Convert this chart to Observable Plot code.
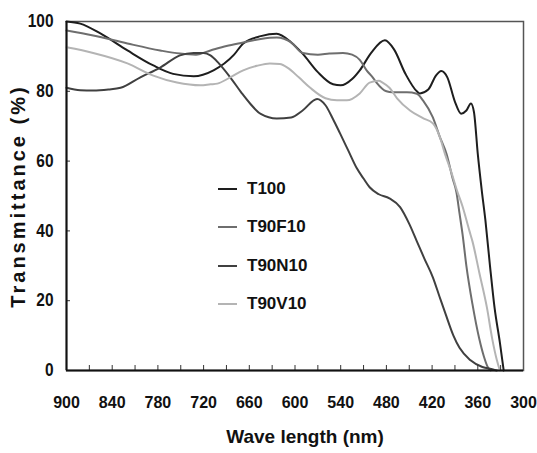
<!DOCTYPE html>
<html>
<head>
<meta charset="utf-8">
<script src="https://cdn.jsdelivr.net/npm/d3@7"></script>
<script src="https://cdn.jsdelivr.net/npm/@observablehq/plot@0.6"></script>
<style>
  html, body { margin: 0; padding: 0; background: #fff; }
  #wrap { position: relative; width: 537px; height: 453px; font-family: "Liberation Sans", Arial, sans-serif; }
  #legend { position: absolute; left: 218px; top: 170px; font-weight: bold; font-size: 17px; color: #111; }
  #legend .item { display: flex; align-items: center; height: 38.3px; }
  #legend .sw { width: 19px; height: 0; border-top: 2.5px solid; margin-right: 10px; }
</style>
</head>
<body>
<div id="wrap"></div>
<script>
const seriesNames = ["T100", "T90F10", "T90N10", "T90V10"];
const seriesColors = ["#1e1e1e", "#6e6e6e", "#404040", "#b4b4b4"];

const T100_wl = [900,882,855,820,786,760,733,707,680,668,645,624,605,590,570,550,540,525,515,500,482,470,455,440,436,425,415,408,400,390,382,375,369,365,360,355,350,344,338,331,326];
const T100_t  = [100,99.4,96.5,91.7,87.4,85,84.3,86,90.5,93.7,95.8,96.5,94,90.8,85.5,82,81.7,83.5,86,91,94.6,92,85,80,79.4,80.5,84.5,85.8,84,77,73.6,74.5,76.5,74,62,52,43,30,18,8,0];

const T90F10_wl = [900,865,820,777,751,730,711,690,668,645,624,605,590,570,555,537,525,515,506,498,493,480,472,453,440,432,419,410,401,393,388,384,380,375,367,358,352,347,343];
const T90F10_t  = [97.4,96,93.7,91.7,90.8,90.5,91.7,93,94,95,95.4,94,91,90.5,90.8,91,90.5,89,86,84,82.5,80,79.7,79.7,79.3,77.4,72.5,67,62,55,51,45,39,30,19,9,4,1,0];

const T90N10_wl = [900,882,865,845,829,803,777,751,733,720,711,700,685,670,659,645,624,605,590,571,560,550,541,530,519,510,502,490,476,462,450,440,430,419,410,402,392,384,370,354,340,335];
const T90N10_t  = [81,80.3,80.2,80.5,81,84,86.8,90.3,91,91,90.3,88,84,79.5,76.5,73.5,72.2,72.5,74.5,77.8,76,72,68,63,58,55,52.5,50.5,49.3,46.8,42,37,32,26.7,21,16,10,6.5,3,1,0.3,0];

const T90V10_wl = [900,865,820,786,755,724,711,702,685,668,650,633,620,610,595,580,560,545,532,515,502,490,485,476,466,449,432,419,410,403,395,388,380,371,367,358,348,341,335,331];
const T90V10_t  = [92.6,91,88,84.5,82.5,81.7,82,82.2,84,86,87.3,88,87.8,86.8,84,81,78,77.4,77.4,79.4,82.5,83,82.5,81,78,74.5,72.3,70.8,67,62,57,52,47,40,37,28,18,9,3,0];

const xLabelTicks = [900,840,780,720,660,600,540,480,420,360,300];
const xMinorTicks = [870,840,810,780,750,720,690,660,630,600,570,540,510,480,450,420,390,360,330];
const yTicks = [0,20,40,60,80,100];
const yInnerTicks = [20,40,60,80];

const wlArrays = [T100_wl, T90F10_wl, T90N10_wl, T90V10_wl];
const tArrays = [T100_t, T90F10_t, T90N10_t, T90V10_t];
const rows = seriesNames.flatMap((s, i) => wlArrays[i].map((w, j) => ({series: s, wl: w, t: tArrays[i][j]})));

const plot = Plot.plot({
  width: 537,
  height: 453,
  marginLeft: 66,
  marginRight: 14,
  marginTop: 21,
  marginBottom: 83,
  style: {fontFamily: "'Liberation Sans', Arial, sans-serif", fontSize: "16px", fontWeight: "bold", color: "#111", background: "#fff"},
  x: {domain: [900, 300], label: null},
  y: {domain: [0, 100], label: null},
  color: {domain: seriesNames, range: seriesColors},
  marks: [
    Plot.frame({stroke: "#555", strokeWidth: 1.5}),
    Plot.line(rows, {x: "wl", y: "t", z: "series", stroke: "series", strokeWidth: 2, curve: "monotone-x"}),
    Plot.axisX({ticks: xLabelTicks, tickSize: 0, tickPadding: 26, fontSize: 16, fontWeight: "bold"}),
    Plot.axisX({ticks: xMinorTicks, tickSize: 5, dy: -5, text: null, stroke: "#333"}),
    Plot.axisY({ticks: yTicks, tickSize: 0, tickPadding: 13, fontSize: 18, fontWeight: "bold"}),
    Plot.axisY({ticks: yInnerTicks, tickSize: 4, dx: 4, text: null, stroke: "#333"}),
    Plot.ruleY([0], {stroke: "#111", strokeWidth: 2}),
    Plot.ruleX([900], {stroke: "#111", strokeWidth: 2}),
    Plot.text(["Wave length (nm)"], {frameAnchor: "bottom", dy: 72, dx: 10, fontSize: 19, fontWeight: "bold", fill: "#111"}),
    Plot.text(["Transmittance (%)"], {frameAnchor: "left", textAnchor: "middle", dx: -48, rotate: -90, fontSize: 20, fontWeight: "bold", fill: "#111"})
  ]
});

const svgSel = d3.select(plot);
svgSel.selectAll("text")
  .filter(function() { return this.textContent === "Transmittance (%)"; })
  .attr("letter-spacing", "3px");
// narrow, tall digits on the y axis as in the reference
svgSel.selectAll("g[aria-label='y-axis tick label'] text")
  .attr("textLength", function() { return this.textContent.trim().length * 8.6; })
  .attr("lengthAdjust", "spacingAndGlyphs");

const wrap = document.getElementById("wrap");
wrap.appendChild(plot);
const legend = document.createElement("div");
legend.id = "legend";
seriesNames.forEach((s, i) => {
  const item = document.createElement("div");
  item.className = "item";
  const sw = document.createElement("span");
  sw.className = "sw";
  sw.style.borderTopColor = seriesColors[i];
  const lab = document.createElement("span");
  lab.textContent = s;
  item.appendChild(sw);
  item.appendChild(lab);
  legend.appendChild(item);
});
wrap.appendChild(legend);
</script>
</body>
</html>
